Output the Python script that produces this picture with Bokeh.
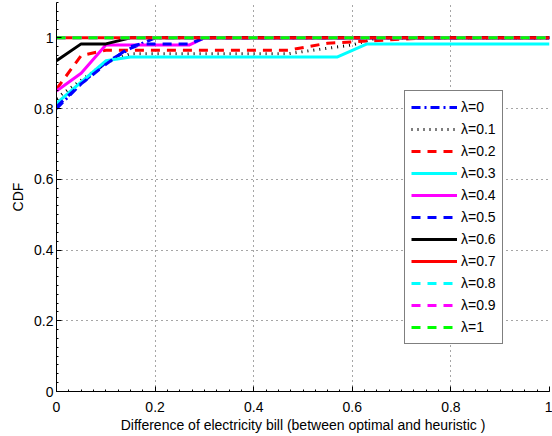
from bokeh.plotting import figure
from bokeh.models import Legend, LegendItem, FixedTicker, Range1d
from bokeh.embed import file_html
from bokeh.resources import INLINE

labels = ["λ=0", "λ=0.1", "λ=0.2", "λ=0.3", "λ=0.4", "λ=0.5",
          "λ=0.6", "λ=0.7", "λ=0.8", "λ=0.9", "λ=1"]

x_l00 = [0, 0.05, 0.1, 0.15, 0.2, 1]
y_l00 = [0.80, 0.87, 0.93, 0.97, 1.0, 1.0]
x_l01 = [0, 0.05, 0.1, 0.15, 0.47, 0.52, 0.6, 0.65, 1]
y_l01 = [0.83, 0.88, 0.93, 0.955, 0.955, 0.965, 0.98, 1.0, 1.0]
x_l02 = [0, 0.05, 0.1, 0.47, 0.55, 0.75, 1]
y_l02 = [0.855, 0.95, 0.965, 0.965, 0.985, 1.0, 1.0]
x_l03 = [0, 0.1, 0.15, 0.57, 0.63, 1]
y_l03 = [0.815, 0.935, 0.946, 0.946, 0.983, 0.983]
x_l04 = [0, 0.05, 0.1, 0.27, 0.3, 1]
y_l04 = [0.85, 0.9, 0.98, 0.98, 1.0, 1.0]
x_l05 = [0, 0.05, 0.1, 0.15, 0.17, 0.27, 0.3, 1]
y_l05 = [0.805, 0.87, 0.925, 0.975, 0.983, 0.983, 1.0, 1.0]
x_l06 = [0, 0.05, 0.1, 0.15, 1]
y_l06 = [0.935, 0.983, 0.983, 1.0, 1.0]
x_l07 = [0, 1]
y_l07 = [1.0, 1.0]
x_l08 = [0, 1]
y_l08 = [1.0, 1.0]
x_l09 = [0, 1]
y_l09 = [1.0, 1.0]
x_l10 = [0, 1]
y_l10 = [1.0, 1.0]

xs = [x_l00, x_l01, x_l02, x_l03, x_l04, x_l05, x_l06, x_l07, x_l08, x_l09, x_l10]
ys = [y_l00, y_l01, y_l02, y_l03, y_l04, y_l05, y_l06, y_l07, y_l08, y_l09, y_l10]

x_ticks = [0, 0.2, 0.4, 0.6, 0.8, 1]
y_ticks = [0, 0.2, 0.4, 0.6, 0.8, 1]

colors = ["#0000ff", "#000000", "#ff0000", "#00ffff", "#ff00ff", "#0000ff",
          "#000000", "#ff0000", "#00ffff", "#ff00ff", "#00ff00"]
dashes = ["9 4 2 4", "1 5", "9 7", "solid", "solid", "9 7",
          "solid", "solid", "9 7", "9 7", "9 7"]

FONT = "Liberation Sans"

p = figure(width=552, height=436, output_backend="svg", toolbar_location=None,
           x_range=Range1d(0, 1), y_range=Range1d(0, 1.1),
           min_border_left=56, min_border_right=3, min_border_top=2,
           min_border_bottom=45)
p.outline_line_color = None
p.background_fill_color = "white"

renderers = []
for i in range(len(labels)):
    r = p.line(xs[i], ys[i], line_color=colors[i], line_width=3,
               line_dash=dashes[i])
    renderers.append(r)

items = [LegendItem(label=labels[i], renderers=[renderers[i]]) for i in range(len(labels))]
legend = Legend(items=items, location=(348, 47))
legend.label_text_font = FONT
legend.label_text_font_size = "14px"
legend.label_text_color = "black"
legend.label_height = 20
legend.glyph_height = 20
legend.glyph_width = 46
legend.spacing = 2
legend.padding = 6
legend.margin = 0
legend.label_standoff = 4
legend.border_line_color = "black"
legend.border_line_width = 1
legend.background_fill_alpha = 1
p.add_layout(legend, "center")

for ax, ticks in ((p.xaxis, x_ticks), (p.yaxis, y_ticks)):
    ax.ticker = FixedTicker(ticks=ticks, minor_ticks=[k / 50 for k in range(51)] if ax is p.xaxis else [k / 40 for k in range(45)])
    ax.major_label_text_font = FONT
    ax.major_label_text_font_size = "14px"
    ax.axis_label_text_font = FONT
    ax.axis_label_text_font_size = "14px"
    ax.axis_label_text_font_style = "normal"
    ax.axis_label_text_color = "black"
    ax.major_tick_in = 5
    ax.major_tick_out = 0
    ax.minor_tick_in = 2
    ax.minor_tick_out = 0
    ax.axis_line_color = "black"
    ax.major_tick_line_color = "black"
    ax.minor_tick_line_color = "black"
    ax.major_label_text_color = "black"

p.xaxis.axis_label = "Difference of electricity bill (between optimal and heuristic )"
p.yaxis.axis_label = "CDF"
p.xaxis.major_label_overrides = {0: "0", 1: "1"}
p.yaxis.major_label_overrides = {0: "0", 1: "1"}
p.xaxis.major_label_standoff = 10
p.xaxis.axis_label_standoff = 2
p.yaxis.major_label_standoff = 3
p.yaxis.axis_label_standoff = 5

p.xgrid.ticker = FixedTicker(ticks=x_ticks)
p.ygrid.ticker = FixedTicker(ticks=y_ticks)
for g in (p.xgrid, p.ygrid):
    g.grid_line_color = "black"
    g.grid_line_alpha = 0.7
    g.grid_line_dash = "1 4"
    g.grid_line_width = 1

open("out.html", "w").write(file_html(p, INLINE))
